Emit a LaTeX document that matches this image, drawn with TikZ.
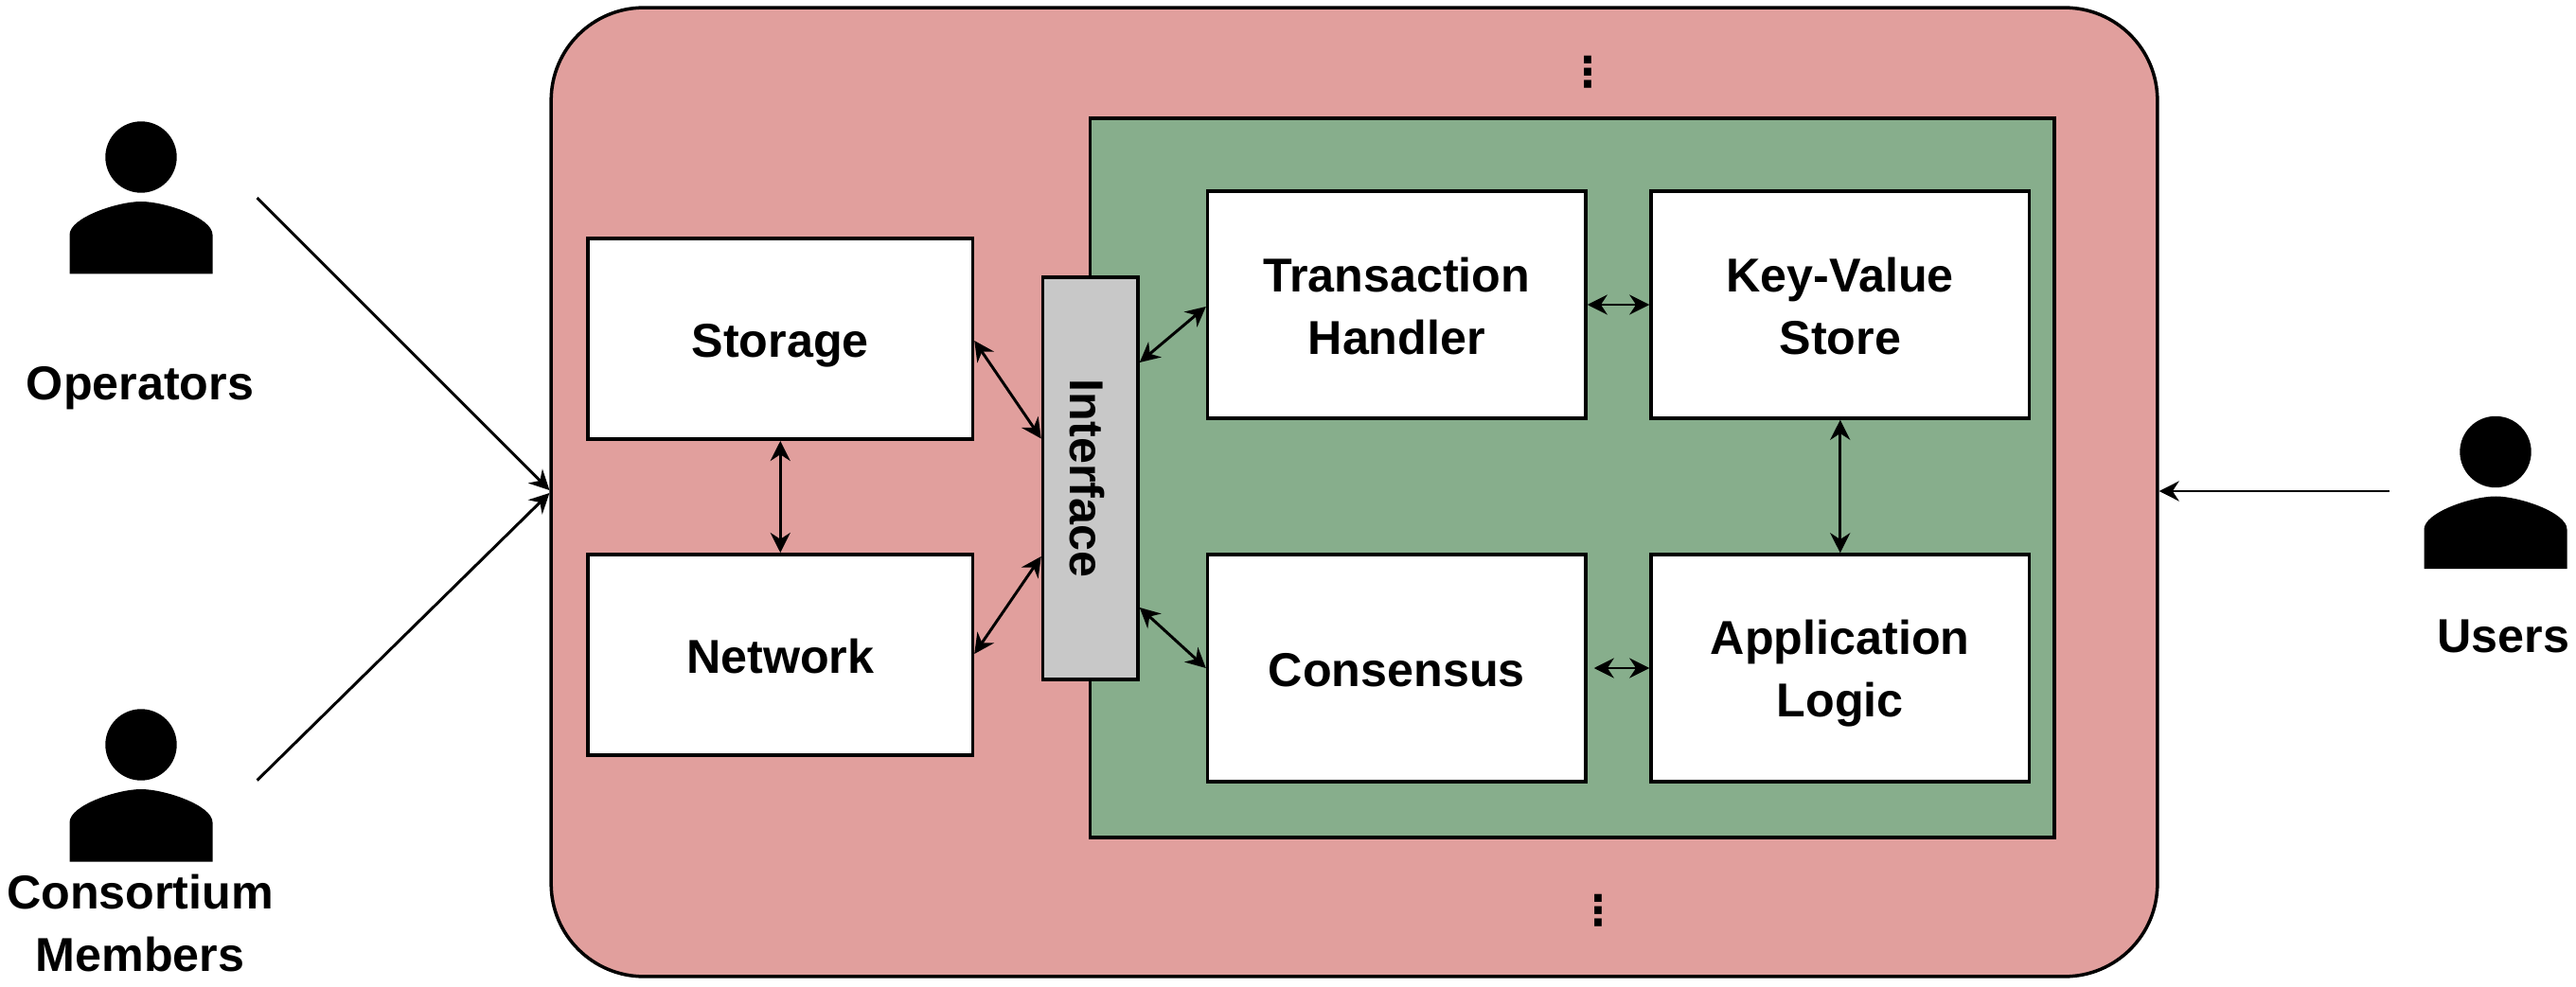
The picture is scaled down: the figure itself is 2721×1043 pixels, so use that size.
\documentclass[tikz,border=0pt]{standalone}
\usepackage{fontspec}
\setmainfont{Liberation Sans}
\newfontfamily\symfont{DejaVu Sans}
\usetikzlibrary{arrows.meta}
\definecolor{hostpink}{HTML}{E19F9D}
\definecolor{enclavegreen}{HTML}{87AE8C}
\definecolor{ifacegray}{HTML}{C8C8C8}
% strut that pushes a label down inside its box
\newcommand{\dn}[1]{\rule{0pt}{\dimexpr 20.9pt+2\dimexpr #1\relax\relax}}
\tikzset{
  every node/.style={font=\fontsize{28.6}{37.6}\selectfont\bfseries, align=center},
  modbox/.style={draw, line width=2pt, fill=white, minimum width=7.99cm, minimum height=4.8cm, inner sep=0pt},
  sidebox/.style={modbox, minimum width=8.13cm, minimum height=4.25cm},
  vdotsnode/.style={font=\symfont\bfseries\fontsize{25}{25}\selectfont},
  link/.style={line width=1.7pt, <->, >={Stealth[length=12pt,width=12pt]}},
  inlink/.style={line width=1.7pt, ->, >={Stealth[length=12pt,width=12pt]}},
  person/.pic={
    \fill (0,0) circle (37.7);
    \fill (-75.5,123.5) -- (-75.5,82) .. controls (-75.5,64) and (-25,47) .. (0,47)
      .. controls (25,47) and (75.5,64) .. (75.5,82) -- (75.5,123.5) -- cycle;
  }
}
\begin{document}
\begin{tikzpicture}[x=0.02cm, y=-0.02cm]
\useasboundingbox (0,0) rectangle (2721,1043);
\node[draw, line width=2pt, fill=hostpink, rounded corners=1.96cm, minimum width=33.94cm, minimum height=20.48cm, inner sep=0pt] (host) at (1430.5,520) {};
\node[draw, line width=2pt, fill=enclavegreen, minimum width=20.37cm, minimum height=15.2cm, inner sep=0pt] (enclave) at (1660.75,505) {};
\node[modbox] (handler) at (1475.25,322) {\dn{1pt}Transaction\\Handler};
\node[modbox] (kvstore) at (1943.75,322) {\dn{1pt}Key-Value\\Store};
\node[modbox] (consensus) at (1475.25,706) {\dn{1pt}Consensus};
\node[modbox] (applogic) at (1943.75,706) {\dn{3pt}Application\\Logic};
\node[sidebox] (storage) at (824.25,358) {\dn{3.9pt}Storage};
\node[sidebox] (network) at (824.25,692) {\dn{1pt}Network};
\node[draw, line width=2pt, fill=ifacegray, rotate=-90, minimum width=8.5cm, minimum height=2.01cm, inner sep=0pt] (iface) at (1151.75,505.5) {\dn{2pt}Interface};
\node[vdotsnode] (topdots) at (1677,76.7) {⋮};
\node[vdotsnode] (botdots) at (1688,962.7) {⋮};

\draw[link] (storage.south) -- (network.north);
\draw[link] (kvstore.south) -- (applogic.north);
\draw[link] (handler.east) -- (kvstore.west);
\draw[link] ([xshift=0.14cm]consensus.east) -- (applogic.west);
\draw[link] (storage.east |- 0,360) -- (iface.south |- 0,463.5);
\draw[link] (network.east |- 0,691) -- (iface.south |- 0,588);
\draw[link] (iface.north |- 0,383) -- (handler.west |- 0,324);
\draw[link] (iface.north |- 0,642) -- (consensus.west);

\pic at (149,166) {person};
\pic at (149,787) {person};
\pic at (2636,477.5) {person};
\node[anchor=base] (operators) at (148,423) {Operators};
\node[anchor=base] (consortium) at (148,960) {Consortium};
\node[anchor=base] (members) at (148,1026) {Members};
\node[anchor=base] (users) at (2644.5,689) {Users};

\coordinate (opfrom) at (271.6,209);
\coordinate (cmfrom) at (271.6,824.6);
\coordinate (usfrom) at (2524,519);
\draw[inlink] (opfrom) -- (host.west |- 0,518);
\draw[inlink] (cmfrom) -- (host.west |- 0,521);
\draw[inlink] (usfrom) -- (host.east |- 0,519);
\end{tikzpicture}
\end{document}
